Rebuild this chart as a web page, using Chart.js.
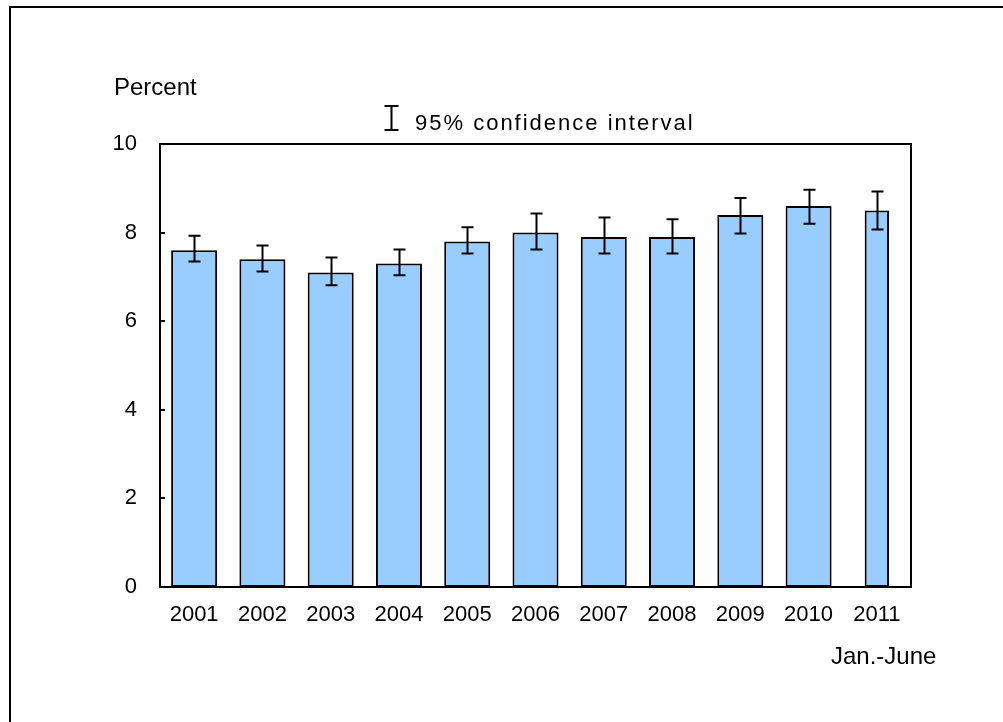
<!DOCTYPE html>
<html>
<head>
<meta charset="utf-8">
<style>
  html, body { margin: 0; padding: 0; background: #fff; }
  #wrap { position: relative; width: 1003px; height: 722px; }
  canvas { display: block; }
</style>
<script src="https://cdn.jsdelivr.net/npm/chart.js@4.4.1/dist/chart.umd.min.js"></script>
</head>
<body>
<div id="wrap"><canvas id="c" width="1003" height="722"></canvas></div>
<script>
// ---- data ----
const categories = ['2001','2002','2003','2004','2005','2006','2007','2008','2009','2010','2011'];
const values     = [7.6, 7.4, 7.1, 7.3, 7.8, 8.0, 7.9, 7.9, 8.4, 8.6, 8.5];
const ciLower    = [7.35, 7.12, 6.81, 7.04, 7.53, 7.62, 7.53, 7.53, 7.98, 8.20, 8.07];
const ciUpper    = [7.93, 7.71, 7.44, 7.62, 8.12, 8.43, 8.34, 8.30, 8.78, 8.97, 8.93];
const partialYear = [false, false, false, false, false, false, false, false, false, false, true];
const yTicks     = [0, 2, 4, 6, 8, 10];
const yAxisTitle = 'Percent';
const legendText = '95% confidence interval';
const partialNote = 'Jan.-June';

const FONT = "'Liberation Sans', Arial, sans-serif";

const fullData = values.map((v, i) => partialYear[i] ? null : v);
const partData = values.map((v, i) => partialYear[i] ? v : null);

const decorPlugin = {
  id: 'decor',
  beforeDraw(chart) {
    const ctx = chart.ctx;
    ctx.save();
    ctx.fillStyle = '#fff';
    ctx.fillRect(0, 0, chart.width, chart.height);
    // outer frame (left and top visible)
    ctx.strokeStyle = '#000';
    ctx.lineWidth = 2;
    ctx.beginPath();
    ctx.moveTo(10, chart.height);
    ctx.lineTo(10, 7);
    ctx.lineTo(chart.width, 7);
    ctx.stroke();
    ctx.restore();
  },
  afterDatasetsDraw(chart) {
    const ctx = chart.ctx;
    const y = chart.scales.y;
    const area = chart.chartArea;
    ctx.save();
    ctx.strokeStyle = '#000';
    ctx.lineWidth = 2;
    // error bars
    chart.data.datasets.forEach((ds, di) => {
      const meta = chart.getDatasetMeta(di);
      ds.data.forEach((v, i) => {
        if (v === null) return;
        const bar = meta.data[i];
        const px = Math.round(bar.x) + 0.5;
        const top = y.getPixelForValue(ciUpper[i]);
        const bot = y.getPixelForValue(ciLower[i]);
        const hw = 6;
        ctx.beginPath();
        ctx.moveTo(px, top); ctx.lineTo(px, bot);
        ctx.moveTo(px - hw, top); ctx.lineTo(px + hw, top);
        ctx.moveTo(px - hw, bot); ctx.lineTo(px + hw, bot);
        ctx.stroke();
      });
    });
    // plot frame
    ctx.strokeRect(area.left, area.top, area.right - area.left, area.bottom - area.top);
    // inward y ticks
    yTicks.forEach(t => {
      const py = Math.round(y.getPixelForValue(t));
      ctx.beginPath();
      ctx.moveTo(area.left, py); ctx.lineTo(area.left + 5, py);
      ctx.stroke();
    });
    // texts
    ctx.fillStyle = '#000';
    ctx.textBaseline = 'alphabetic';
    ctx.textAlign = 'left';
    ctx.font = '24px ' + FONT;
    ctx.fillText(yAxisTitle, 114, 95);
    ctx.fillText(partialNote, 831, 664);
    // legend symbol
    const lx = 391.5;
    ctx.beginPath();
    ctx.moveTo(lx, 106); ctx.lineTo(lx, 130);
    ctx.moveTo(lx - 7, 106); ctx.lineTo(lx + 7, 106);
    ctx.moveTo(lx - 7, 130); ctx.lineTo(lx + 7, 130);
    ctx.stroke();
    ctx.font = '22px ' + FONT;
    if ('letterSpacing' in ctx) ctx.letterSpacing = '2px';
    ctx.fillText(legendText, 415, 130);
    ctx.restore();
  }
};

new Chart(document.getElementById('c'), {
  type: 'bar',
  data: {
    labels: categories,
    datasets: [
      {
        data: fullData,
        backgroundColor: '#99CCFF',
        borderColor: '#000',
        borderWidth: 2,
        borderSkipped: false,
        barPercentage: 0.674,
        categoryPercentage: 1,
        grouped: false
      },
      {
        data: partData,
        backgroundColor: '#99CCFF',
        borderColor: '#000',
        borderWidth: 2,
        borderSkipped: false,
        barPercentage: 0.357,
        categoryPercentage: 1,
        grouped: false
      }
    ]
  },
  options: {
    responsive: false,
    animation: false,
    layout: { padding: { left: 0, top: 144, right: 92, bottom: 0 } },
    plugins: { legend: { display: false }, tooltip: { enabled: false } },
    scales: {
      x: {
        grid: { display: false, drawTicks: false },
        border: { display: true, color: '#000', width: 2 },
        ticks: { color: '#000', font: { family: FONT, size: 22 }, padding: 15, maxRotation: 0, autoSkip: false },
        afterFit(s) { s.height = 135; }
      },
      y: {
        min: 0, max: 10,
        grid: { display: false, drawTicks: false },
        border: { display: true, color: '#000', width: 2 },
        afterBuildTicks(s) { s.ticks = yTicks.map(v => ({ value: v })); },
        ticks: { color: '#000', font: { family: FONT, size: 22 }, padding: 23 },
        afterFit(s) { s.width = 160; }
      }
    }
  },
  plugins: [decorPlugin]
});
</script>
</body>
</html>
